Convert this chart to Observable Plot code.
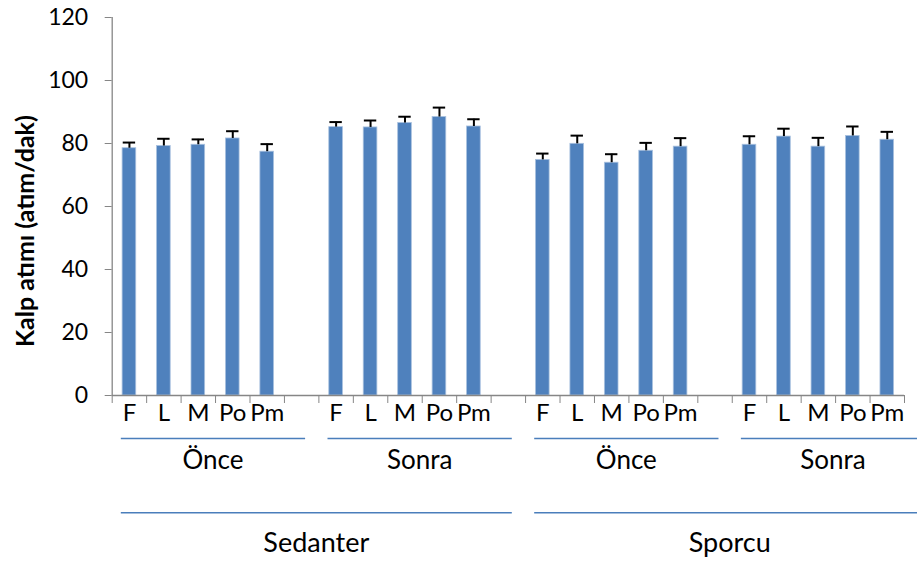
<!DOCTYPE html>
<html>
<head>
<meta charset="utf-8">
<script src="https://cdn.jsdelivr.net/npm/d3@7"></script>
<script src="https://cdn.jsdelivr.net/npm/@observablehq/plot@0.6"></script>
<style>
  html, body { margin: 0; padding: 0; background: #fff; }
  #chart svg { display: block; }
</style>
</head>
<body>
<div id="chart"></div>
<script>
// Heart rate by measurement point, before/after, for sedentary and athlete groups
const measures = ["F", "L", "M", "Po", "Pm"];
const phases = ["Önce", "Sonra"];
const groups = ["Sedanter", "Sporcu"];

// mean heart rate (beats/min), one row per group × phase, columns follow `measures`
const sedanterOnce  = [78.5, 79.2, 79.6, 81.6, 77.4];
const sedanterSonra = [85.2, 85.1, 86.5, 88.4, 85.4];
const sporcuOnce    = [74.8, 79.9, 73.9, 77.7, 79.0];
const sporcuSonra   = [79.6, 82.2, 79.0, 82.4, 81.2];

// standard error (upper whisker only)
const sedanterOnceErr  = [1.8, 2.3, 1.7, 2.3, 2.4];
const sedanterSonraErr = [1.6, 2.2, 2.0, 3.0, 2.3];
const sporcuOnceErr    = [2.0, 2.6, 2.7, 2.5, 2.7];
const sporcuSonraErr   = [2.7, 2.5, 2.8, 3.0, 2.5];

const yTicks = [0, 20, 40, 60, 80, 100, 120];
const yLabel = "Kalp atımı (atım/dak)";

const series = [
  {group: groups[0], phase: phases[0], values: sedanterOnce,  errs: sedanterOnceErr},
  {group: groups[0], phase: phases[1], values: sedanterSonra, errs: sedanterSonraErr},
  {group: groups[1], phase: phases[0], values: sporcuOnce,    errs: sporcuOnceErr},
  {group: groups[1], phase: phases[1], values: sporcuSonra,   errs: sporcuSonraErr}
];

// Each phase block takes one slot per measure plus an empty spacer slot
const slotsPerBlock = measures.length + 1;
const bars = series.flatMap((s, b) =>
  s.values.map((v, i) => ({
    slot: b * slotsPerBlock + i,
    measure: measures[i],
    value: v,
    err: s.errs[i]
  }))
);
const nSlots = series.length * slotsPerBlock - 1;

// Category bracket rows (phase and group) spanning their slots
const phaseSpans = series.map((s, b) => ({
  label: s.phase,
  x1: b * slotsPerBlock + 0.25,
  x2: b * slotsPerBlock + slotsPerBlock - 0.4
}));
const groupSpans = groups.map((g, k) => ({
  label: g,
  x1: k * 2 * slotsPerBlock + 0.25,
  x2: k * 2 * slotsPerBlock + 2 * slotsPerBlock - 0.4
}));

const font = "Lato, 'Open Sans', sans-serif";
const axisGray = "#868686";
const barBlue = "#4f81bd";
const bracketBlue = "#4a7ebb";
const halfCap = 0.18;

const chart = Plot.plot({
  width: 917,
  height: 563,
  marginLeft: 111.7,
  marginRight: 13,
  marginTop: 17,
  marginBottom: 168,
  style: {fontFamily: font, background: "#fff", overflow: "visible"},
  x: {type: "linear", domain: [0, nSlots], axis: null},
  y: {domain: [0, 120], axis: null},
  marks: [
    // bars
    Plot.rectY(bars, {
      x1: "slot", x2: d => d.slot + 1, y: "value",
      fill: barBlue, stroke: "#a9c1df", strokeWidth: 0.8,
      insetLeft: 10.4, insetRight: 10.4
    }),
    // error whiskers
    Plot.ruleX(bars, {
      x: d => d.slot + 0.5, y1: "value", y2: d => d.value + d.err,
      stroke: "#000", strokeWidth: 2
    }),
    Plot.ruleY(bars, {
      y: d => d.value + d.err, x1: d => d.slot + 0.5 - halfCap, x2: d => d.slot + 0.5 + halfCap,
      stroke: "#000", strokeWidth: 2
    }),
    // axes
    Plot.ruleX([0], {y1: 0, y2: 120, stroke: axisGray, strokeWidth: 1.3}),
    Plot.ruleY([0], {stroke: axisGray, strokeWidth: 1.3}),
    Plot.axisY({
      ticks: yTicks, tickSize: 7, text: null, stroke: axisGray, label: null
    }),
    Plot.text(yTicks, {
      x: 0, y: d => d, text: d => String(d), dx: -24,
      textAnchor: "end", lineAnchor: "middle", fontSize: 23, fill: "#000"
    }),
    Plot.axisX({
      ticks: d3.range(0, nSlots + 1), tickSize: 8, tickFormat: () => "",
      stroke: axisGray, label: null
    }),
    // measure labels under each bar
    Plot.text(bars, {
      x: d => d.slot + 0.5, y: 0, text: "measure", dy: 18,
      fontSize: 24, fill: "#000", lineAnchor: "middle"
    }),
    // phase brackets
    Plot.link(phaseSpans, {
      x1: "x1", x2: "x2", y1: 0, y2: 0, dy: 43,
      stroke: bracketBlue, strokeWidth: 1.5
    }),
    Plot.text(phaseSpans, {
      x: d => (d.x1 + d.x2) / 2, y: 0, text: "label", dy: 65,
      fontSize: 26, fill: "#000", lineAnchor: "middle"
    }),
    // group brackets
    Plot.link(groupSpans, {
      x1: "x1", x2: d => Math.min(d.x2, nSlots + 0.38), y1: 0, y2: 0, dy: 117.3,
      stroke: bracketBlue, strokeWidth: 1.5
    }),
    Plot.text(groupSpans, {
      x: d => (d.x1 + d.x2) / 2, y: 0, text: "label", dy: 147.5,
      fontSize: 27, fill: "#000", lineAnchor: "middle"
    }),
    // y-axis title
    Plot.text([yLabel], {
      frameAnchor: "left", rotate: -90, dx: -86.7, dy: 24.6,
      textAnchor: "middle", lineAnchor: "middle",
      fontSize: 25, fontWeight: "bold", fill: "#000"
    })
  ]
});

document.getElementById("chart").append(chart);
</script>
</body>
</html>
